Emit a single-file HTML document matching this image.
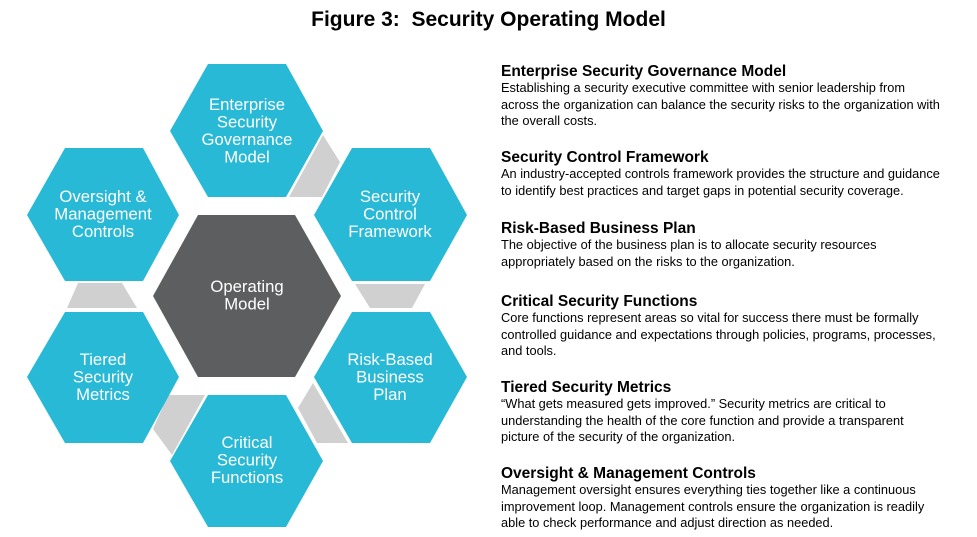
<!DOCTYPE html>
<html><head><meta charset="utf-8"><style>
body{margin:0;width:977px;height:537px;background:#fff;position:relative;overflow:hidden;font-family:"Liberation Sans",Arial,sans-serif}
.t{position:absolute;left:0;width:977px;top:8px;text-align:center;font-weight:bold;font-size:21px;line-height:24px}
.b{position:absolute;left:501px;width:476px;color:#000;white-space:nowrap}
.b h{display:block;font-weight:bold;font-size:15.5px;line-height:17px}
.b p{margin:0;font-size:12.8px;line-height:16.7px}
svg{position:absolute;left:0;top:0}
svg text{font-family:"Liberation Sans",Arial,sans-serif;font-size:16.7px;fill:#fff;text-anchor:middle}
</style></head><body>
<div class="t">Figure 3:&nbsp; Security Operating Model</div>
<svg width="977" height="537">
<g fill="#d0d0d0">
<polygon points="323,135 340,162 322,197 289,197"/>
<polygon points="355,284 425,284 412,308 370,308"/>
<polygon points="313,383 348,443 317,443 298,408"/>
<polygon points="168,395 205,395 172,455 153,429"/>
<polygon points="78,283 122,283 137,308 67,308"/>
</g>
<g fill="#27b9d6">
<polygon points="208,64 286,64 323,131 286,197 208,197 170,131"/>
<polygon points="352,148 430,148 467,215 430,281 352,281 314,215"/>
<polygon points="352,312 430,312 467,377 430,443 352,443 314,377"/>
<polygon points="208,395 286,395 323,461 286,527 208,527 170,461"/>
<polygon points="65,312 143,312 179,377 143,443 65,443 27,377"/>
<polygon points="65,148 143,148 179,215 143,281 65,281 27,215"/>
</g>
<polygon fill="#5d5e60" points="198,215 295,215 341,296 295,377 198,377 153,296"/>
<text x="247" y="110">Enterprise</text><text x="247" y="127.5">Security</text><text x="247" y="145">Governance</text><text x="247" y="162.5">Model</text>
<text x="390" y="202">Security</text><text x="390" y="219.5">Control</text><text x="390" y="237">Framework</text>
<text x="390" y="365">Risk-Based</text><text x="390" y="382.5">Business</text><text x="390" y="400">Plan</text>
<text x="247" y="448">Critical</text><text x="247" y="465.5">Security</text><text x="247" y="483">Functions</text>
<text x="103" y="365">Tiered</text><text x="103" y="382.5">Security</text><text x="103" y="400">Metrics</text>
<text x="103" y="202">Oversight &amp;</text><text x="103" y="219.5">Management</text><text x="103" y="237">Controls</text>
<text x="247" y="292">Operating</text><text x="247" y="309.5">Model</text>
</svg>
<div class="b" style="top:63px"><h>Enterprise Security Governance Model</h><p>Establishing a security executive committee with senior leadership from<br>across the organization can balance the security risks to the organization with<br>the overall costs.</p></div>
<div class="b" style="top:149px"><h>Security Control Framework</h><p>An industry-accepted controls framework provides the structure and guidance<br>to identify best practices and target gaps in potential security coverage.</p></div>
<div class="b" style="top:220px"><h>Risk-Based Business Plan</h><p>The objective of the business plan is to allocate security resources<br>appropriately based on the risks to the organization.</p></div>
<div class="b" style="top:293px"><h>Critical Security Functions</h><p>Core functions represent areas so vital for success there must be formally<br>controlled guidance and expectations through policies, programs, processes,<br>and tools.</p></div>
<div class="b" style="top:379px"><h>Tiered Security Metrics</h><p>“What gets measured gets improved.” Security metrics are critical to<br>understanding the health of the core function and provide a transparent<br>picture of the security of the organization.</p></div>
<div class="b" style="top:465px"><h>Oversight &amp; Management Controls</h><p>Management oversight ensures everything ties together like a continuous<br>improvement loop. Management controls ensure the organization is readily<br>able to check performance and adjust direction as needed.</p></div>
</body></html>
